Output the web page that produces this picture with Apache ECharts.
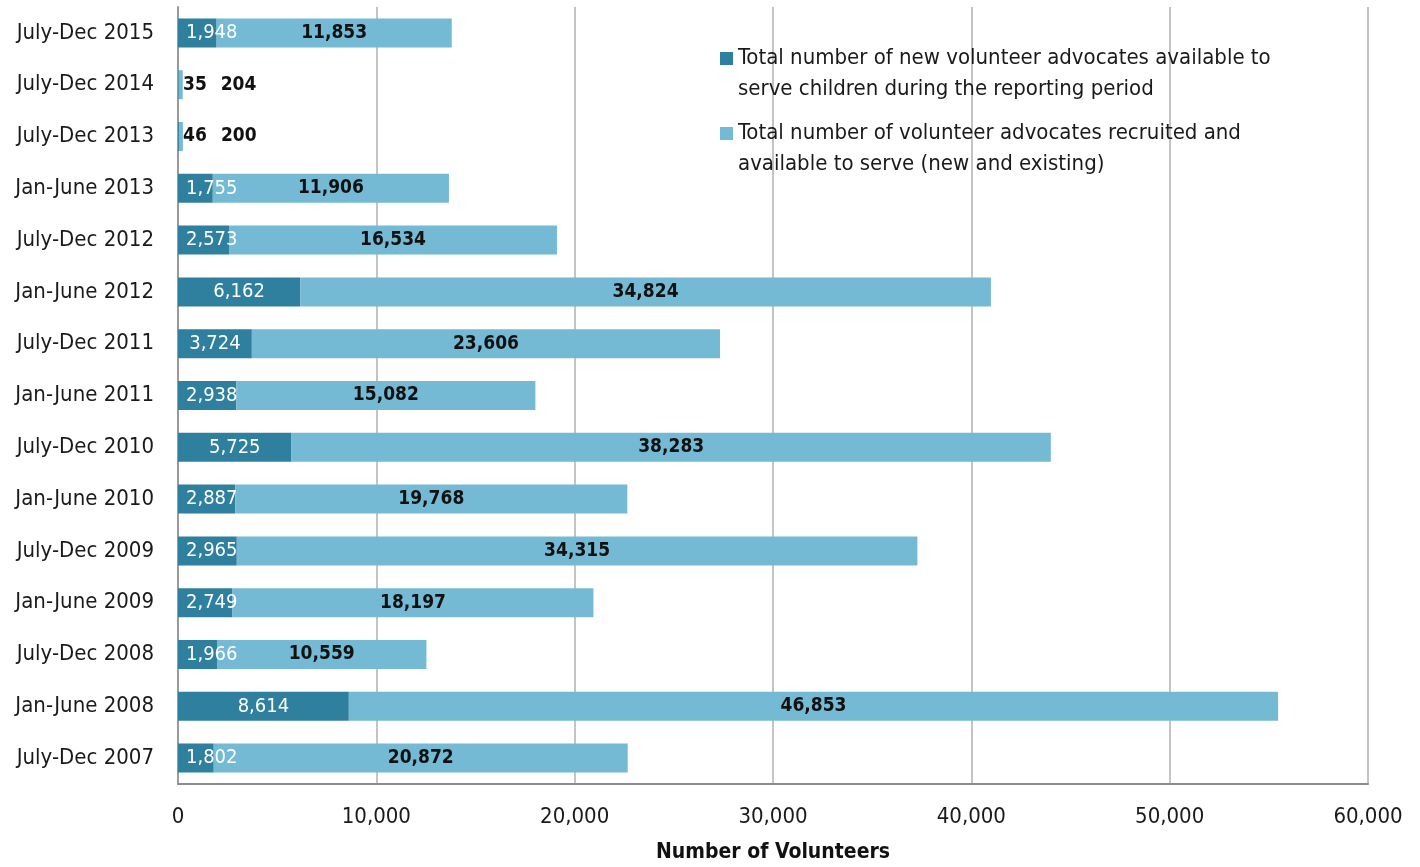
<!DOCTYPE html>
<html>
<head>
<meta charset="utf-8">
<script src="https://cdn.jsdelivr.net/npm/echarts@6/dist/echarts.min.js"></script>
<style>
  html, body { margin: 0; padding: 0; background: #fff; }
  #chart { width: 1420px; height: 867px; }
</style>
</head>
<body>
<div id="chart"></div>
<script>
// Reporting periods, newest first
const periods = [
  'July-Dec 2015', 'July-Dec 2014', 'July-Dec 2013', 'Jan-June 2013',
  'July-Dec 2012', 'Jan-June 2012', 'July-Dec 2011', 'Jan-June 2011',
  'July-Dec 2010', 'Jan-June 2010', 'July-Dec 2009', 'Jan-June 2009',
  'July-Dec 2008', 'Jan-June 2008', 'July-Dec 2007'
];
// New volunteer advocates available to serve children
const newAdvocates = [1948, 35, 46, 1755, 2573, 6162, 3724, 2938, 5725, 2887, 2965, 2749, 1966, 8614, 1802];
// Volunteer advocates recruited and available to serve (new and existing)
const allAdvocates = [11853, 204, 200, 11906, 16534, 34824, 23606, 15082, 38283, 19768, 34315, 18197, 10559, 46853, 20872];
const xTicks = [0, 10000, 20000, 30000, 40000, 50000, 60000];

const seriesNames = [
  'Total number of new volunteer advocates available to\nserve children during the reporting period',
  'Total number of volunteer advocates recruited and\navailable to serve (new and existing)'
];

const FONT = '"DejaVu Sans Condensed", "Liberation Sans Narrow", sans-serif';
const FS = 22;          // axis and legend text
const FS_WHITE = 20;    // labels on the dark segments
const FS_BLACK = 19;    // labels on the light segments
const DARK = '#2F809E';
const LIGHT = '#74BAD5';

const dom = document.getElementById('chart');
const chart = echarts.init(dom, null, { renderer: 'canvas' });

const gridLeft = 178, gridRight = 52;
const plotWidth = 1420 - gridLeft - gridRight;
const xMax = xTicks[xTicks.length - 1];
const pxPer = plotWidth / xMax;

const ctx = document.createElement('canvas').getContext('2d');
function textWidth(t, weight, size) {
  ctx.font = (weight || 'normal') + ' ' + size + 'px ' + FONT;
  return ctx.measureText(t).width;
}
const fmt = v => v.toLocaleString('en-US');

// Labels of the dark segments: centred, but kept clear of the axis when the segment is narrow
const darkData = newAdvocates.map(v => {
  const seg = v * pxPer;
  const w = textWidth(fmt(v), 'normal', FS_WHITE);
  const tiny = seg < 6;
  return {
    value: v,
    label: {
      position: 'insideLeft',
      distance: tiny ? 5 : Math.max(8, seg / 2 - w / 2),
      color: tiny ? '#111' : '#fff',
      fontWeight: tiny ? 'bold' : 'normal',
      fontSize: tiny ? FS_BLACK : FS_WHITE
    }
  };
});

// Labels of the light segments: centred, or set beside the bar when it is too short
const lightData = allAdvocates.map(v => {
  const seg = v * pxPer;
  const w = textWidth(fmt(v), 'bold', FS_BLACK);
  if (seg < w) {
    return { value: v, label: { position: 'insideLeft', distance: 42 } };
  }
  return { value: v };
});

const option = {
  animation: false,
  textStyle: { fontFamily: FONT },
  grid: { left: gridLeft, right: gridRight, top: 7, bottom: 83, containLabel: false, outerBoundsMode: 'none' },
  legend: {
    orient: 'vertical',
    left: 720,
    top: 12,
    padding: 0,
    itemGap: -18,
    itemWidth: 13,
    itemHeight: 13,
    icon: 'rect',
    selectedMode: false,
    // a blank leading line keeps the swatch level with the first line of text
    formatter: name => ' \n' + name,
    textStyle: { fontFamily: FONT, fontSize: FS, color: '#1a1a1a', lineHeight: 31 },
    data: seriesNames
  },
  xAxis: {
    type: 'value',
    min: xTicks[0],
    max: xMax,
    interval: xTicks[1] - xTicks[0],
    name: 'Number of Volunteers',
    nameLocation: 'middle',
    nameGap: 58,
    nameTextStyle: { fontFamily: FONT, fontSize: 21, fontWeight: 'bold', color: '#111' },
    axisLine: { show: true, lineStyle: { color: '#8c8c8c', width: 2 } },
    axisTick: { show: false },
    axisLabel: {
      fontFamily: FONT, fontSize: FS, color: '#1a1a1a', margin: 22,
      formatter: v => fmt(v)
    },
    splitLine: { show: true, lineStyle: { color: '#c4c4c4', width: 2 } }
  },
  yAxis: {
    type: 'category',
    inverse: true,
    data: periods,
    axisLine: { show: true, lineStyle: { color: '#9a9a9a', width: 2 } },
    axisTick: { show: false },
    axisLabel: { fontFamily: FONT, fontSize: FS, color: '#1a1a1a', margin: 24 }
  },
  series: [
    {
      name: seriesNames[0],
      type: 'bar',
      stack: 'total',
      barWidth: 29,
      itemStyle: { color: DARK },
      label: {
        show: true, fontFamily: FONT, fontSize: FS_WHITE,
        formatter: p => fmt(p.value)
      },
      data: darkData
    },
    {
      name: seriesNames[1],
      type: 'bar',
      stack: 'total',
      barWidth: 29,
      itemStyle: { color: LIGHT },
      label: {
        show: true, position: 'inside', fontFamily: FONT, fontSize: FS_BLACK,
        fontWeight: 'bold', color: '#111',
        formatter: p => fmt(p.value)
      },
      data: lightData
    }
  ]
};

chart.setOption(option);
</script>
</body>
</html>
